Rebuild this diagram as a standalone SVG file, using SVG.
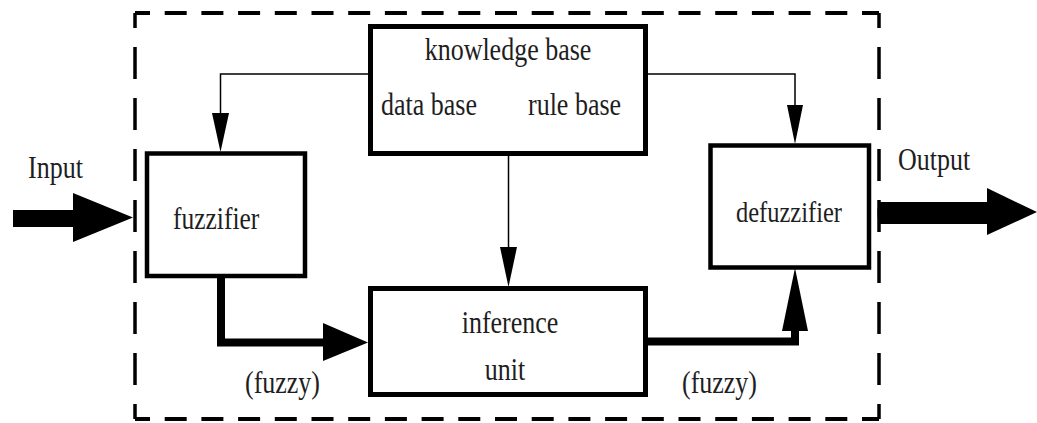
<svg xmlns="http://www.w3.org/2000/svg" width="1037" height="423" viewBox="0 0 1037 423">
  <style>
    .box { fill: #ffffff; stroke: #000000; stroke-width: 5; }
    .thin { fill: none; stroke: #000000; stroke-width: 1.5; }
    .thick { fill: none; stroke: #000000; stroke-width: 8; stroke-linejoin: miter; }
    .head { fill: #000000; stroke: none; }
    .frame-h { fill: none; stroke: #000000; stroke-width: 4; stroke-dasharray: 22 14.7; stroke-dashoffset: 7; }
    .frame-v { fill: none; stroke: #000000; stroke-width: 3.5; stroke-dasharray: 32 19; stroke-dashoffset: 17; }
    .lbl { font-family: "Liberation Serif", "Times New Roman", serif; font-size: 26px; fill: #1e1e1e; }
    .mid { text-anchor: middle; }
  </style>

  <rect width="1037" height="423" fill="#ffffff"/>

  <!-- dashed system boundary -->
  <g id="boundary">
    <path class="frame-h" d="M135,13 H879"/>
    <path class="frame-h" d="M135,419 H879"/>
    <path class="frame-v" d="M135,13 V419"/>
    <path class="frame-v" d="M879,13 V419"/>
  </g>

  <!-- connectors -->
  <g id="connectors">
    <!-- knowledge base to fuzzifier -->
    <path class="thin" d="M370,74 H220.5 V115"/>
    <polygon class="head" points="212,113 229,113 220.5,152"/>
    <!-- knowledge base to defuzzifier -->
    <path class="thin" d="M646,74 H795 V107"/>
    <polygon class="head" points="787,105 803,105 795,144"/>
    <!-- knowledge base to inference unit -->
    <path class="thin" d="M508.5,156 V249"/>
    <polygon class="head" points="500,247 517,247 508.5,287"/>
    <!-- fuzzifier to inference unit (fuzzy) -->
    <path class="thick" d="M221,276 V342.5 H326"/>
    <polygon class="head" points="323,323 323,361 368,342.5"/>
    <!-- inference unit to defuzzifier (fuzzy) -->
    <path class="thick" d="M646,341.5 H795 V328"/>
    <polygon class="head" points="782,331 808,331 795,268"/>
    <!-- input arrow -->
    <polygon class="head" points="13,210 73,210 73,193 133,217.5 73,242 73,227 13,227"/>
    <!-- output arrow -->
    <path class="head" d="M880,202 H987 V188 L1037,212 L987,235 V224 H880 A2.5,11 0 0 1 880,202 Z"/>
  </g>

  <!-- nodes -->
  <g id="knowledge-base">
    <rect class="box" x="370.5" y="26.5" width="275" height="127"/>
    <text class="lbl mid" transform="translate(508 60) scale(1 1.2)">knowledge base</text>
    <text class="lbl" transform="translate(381 115) scale(1 1.2)">data base</text>
    <text class="lbl" transform="translate(528 115) scale(1 1.2)">rule base</text>
  </g>

  <g id="fuzzifier">
    <rect class="box" x="147" y="153.5" width="158" height="122.5" style="stroke-width:4.5"/>
    <text class="lbl" style="font-size:25.5px" transform="translate(173 229) scale(1 1.2)">fuzzifier</text>
  </g>

  <g id="defuzzifier">
    <rect class="box" x="710.5" y="145.5" width="158.5" height="122" style="stroke-width:4.5"/>
    <text class="lbl mid" style="font-size:24.5px" transform="translate(789 222) scale(1 1.2)">defuzzifier</text>
  </g>

  <g id="inference-unit">
    <rect class="box" x="370.5" y="288.5" width="275" height="106"/>
    <text class="lbl mid" transform="translate(510 333) scale(1 1.2)">inference</text>
    <text class="lbl mid" transform="translate(505 380) scale(1 1.2)">unit</text>
  </g>

  <g id="labels">
    <text class="lbl" transform="translate(28 178) scale(1 1.2)">Input</text>
    <text class="lbl" transform="translate(898 170) scale(1 1.2)">Output</text>
    <text class="lbl" transform="translate(245 393) scale(1 1.2)">(fuzzy)</text>
    <text class="lbl" transform="translate(682 393) scale(1 1.2)">(fuzzy)</text>
  </g>
</svg>
